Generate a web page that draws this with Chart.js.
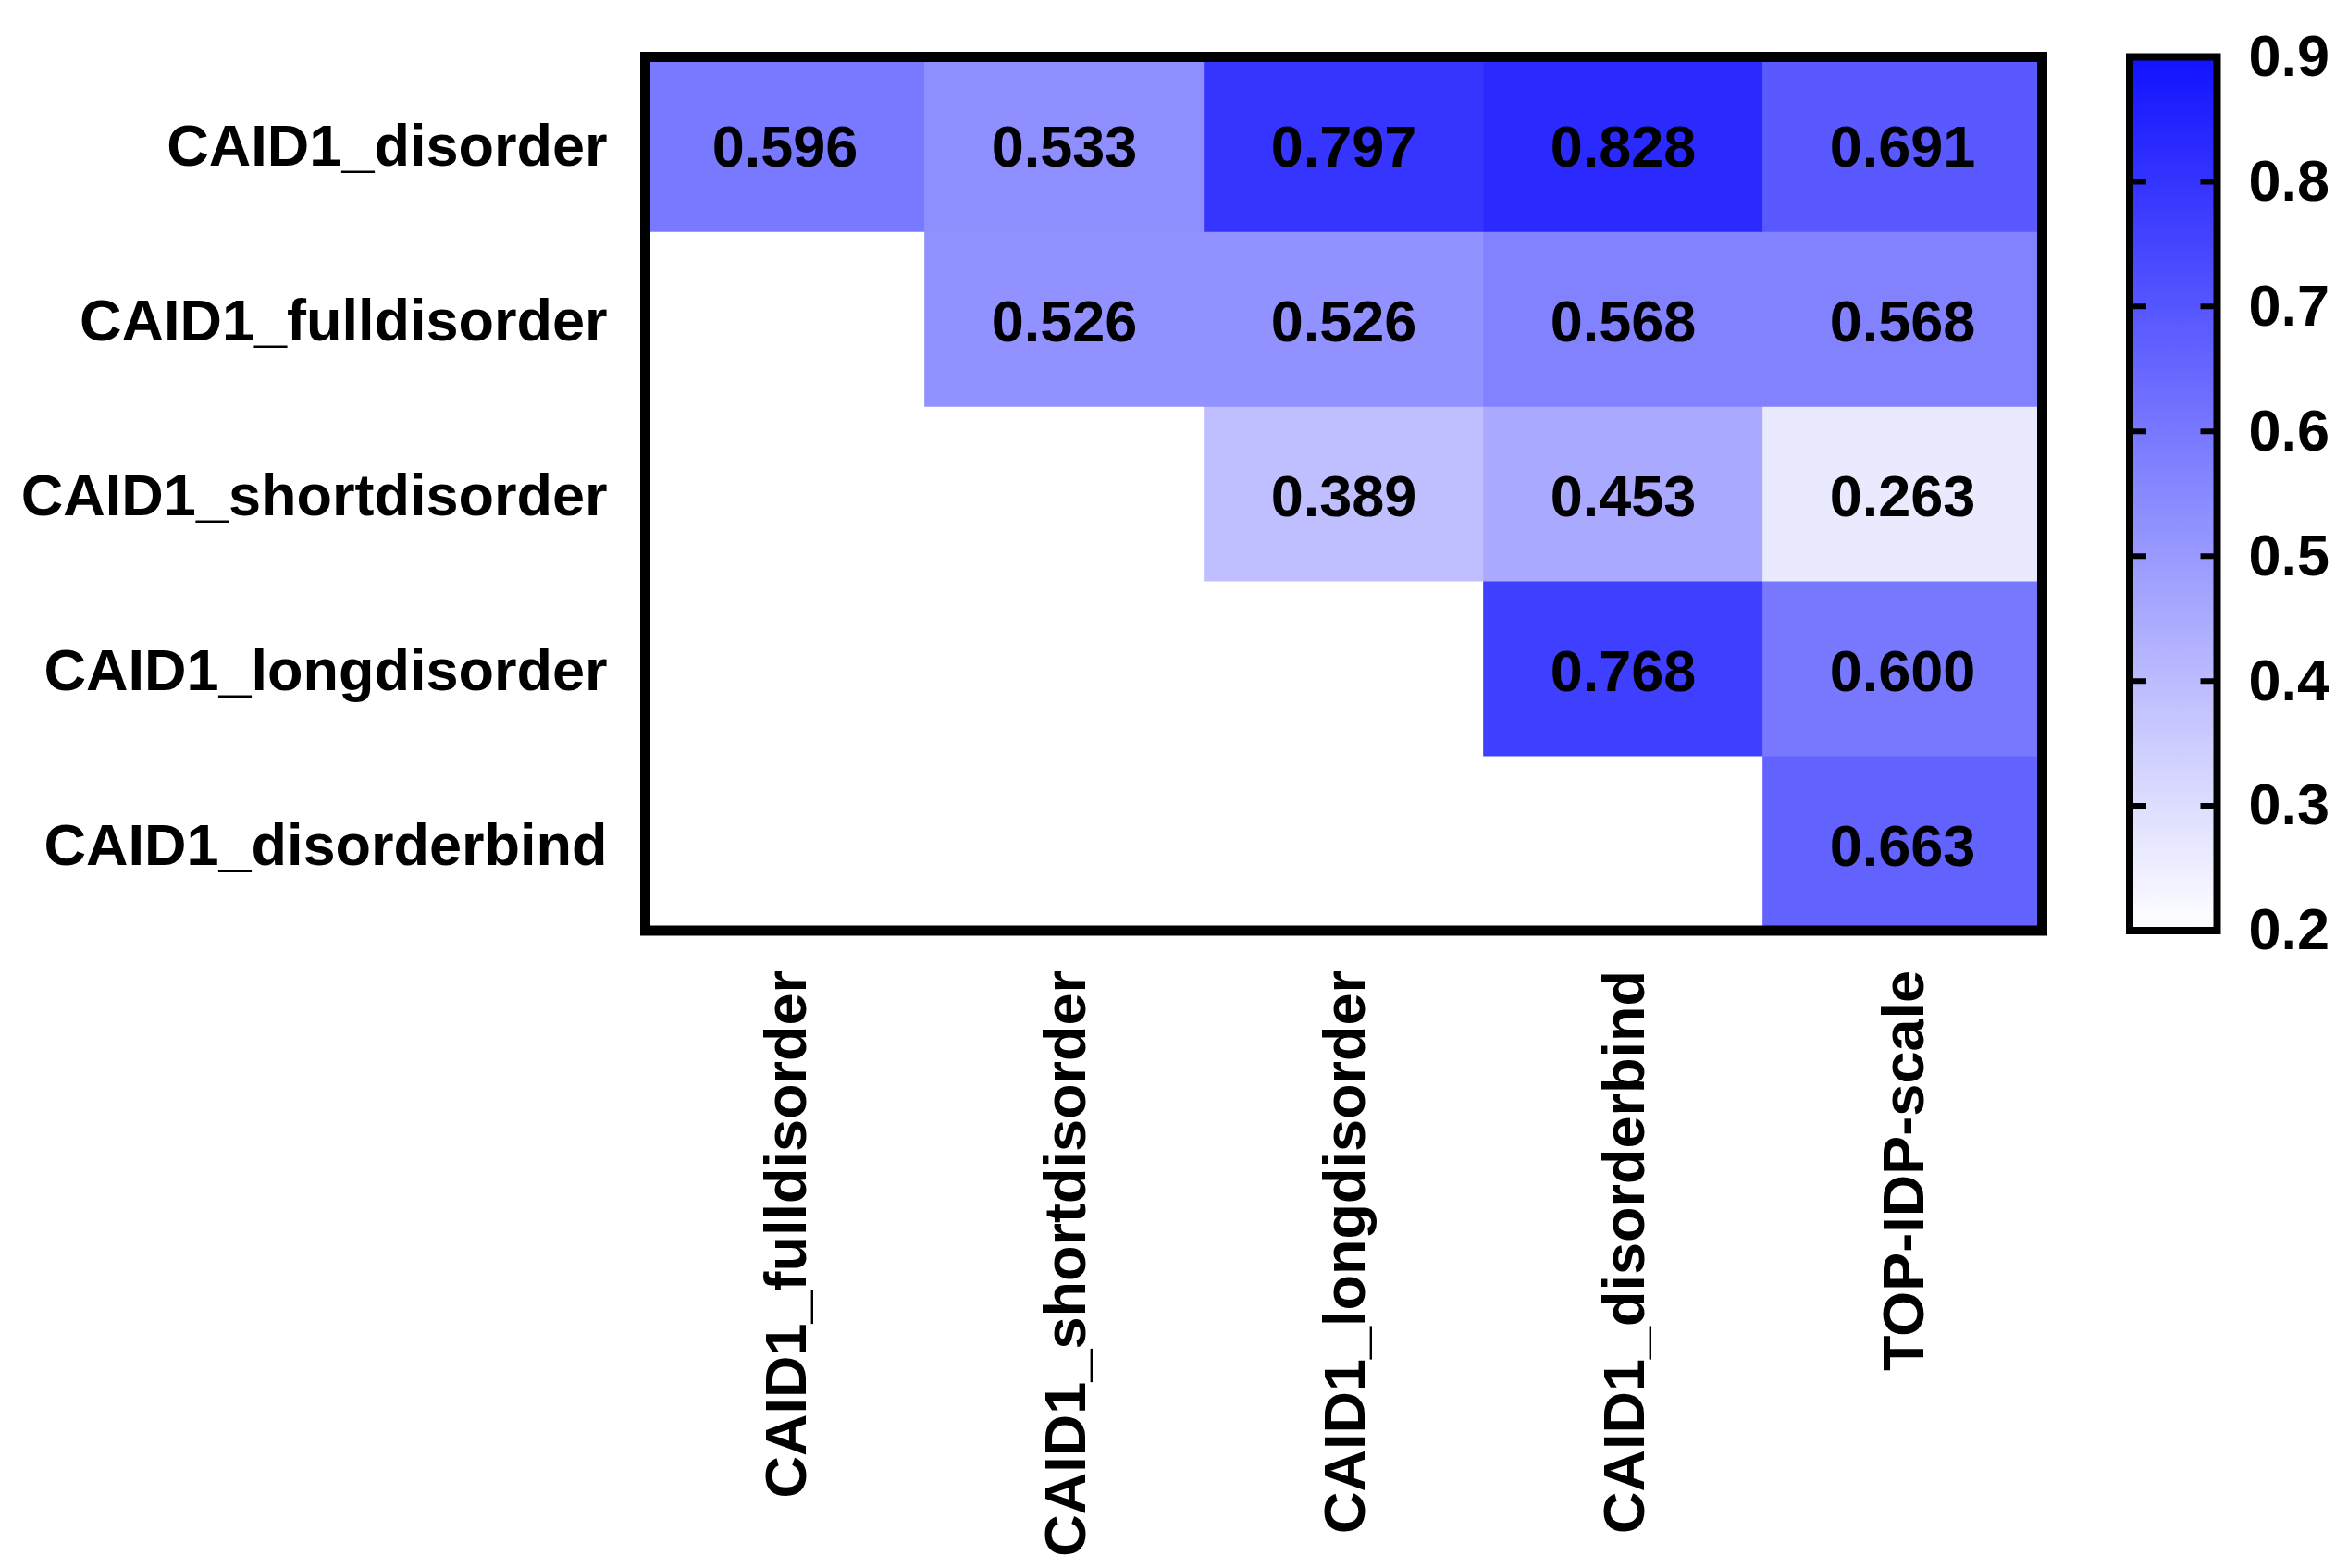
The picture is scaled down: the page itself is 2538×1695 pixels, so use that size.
<!DOCTYPE html>
<html>
<head>
<meta charset="utf-8">
<script src="https://cdn.jsdelivr.net/npm/chart.js@4.4.1/dist/chart.umd.min.js"></script>
<style>
  html, body { margin: 0; padding: 0; background: #fff; overflow: hidden; }
  #wrap { position: relative; width: 2538px; height: 1695px; }
  #heat { position: absolute; left: 0; top: 0; }
  #scale { position: absolute; left: 2250px; top: 0; }
</style>
</head>
<body>
<div id="wrap">
  <canvas id="heat" width="2538" height="1695"></canvas>
  <canvas id="scale" width="288" height="1695"></canvas>
</div>
<script>
// columnas (eje horizontal) y filas (eje vertical)
const columns = ['CAID1_fulldisorder', 'CAID1_shortdisorder', 'CAID1_longdisorder', 'CAID1_disorderbind', 'TOP-IDP-scale'];
const rows = ['CAID1_disorder', 'CAID1_fulldisorder', 'CAID1_shortdisorder', 'CAID1_longdisorder', 'CAID1_disorderbind'];

// one array per row, null = empty cell
const rowDisorder      = [0.596, 0.533, 0.797, 0.828, 0.691];
const rowFullDisorder  = [null,  0.526, 0.526, 0.568, 0.568];
const rowShortDisorder = [null,  null,  0.389, 0.453, 0.263];
const rowLongDisorder  = [null,  null,  null,  0.768, 0.600];
const rowDisorderBind  = [null,  null,  null,  null,  0.663];

const scaleTicks = [0.2, 0.3, 0.4, 0.5, 0.6, 0.7, 0.8, 0.9];

const values = [rowDisorder, rowFullDisorder, rowShortDisorder, rowLongDisorder, rowDisorderBind];
const V_MIN = scaleTicks[0];
const V_MAX = scaleTicks[scaleTicks.length - 1];

function colorFor(v) {
    const t = (v - V_MIN) / (V_MAX - V_MIN);
    const c = Math.round(255 - t * (255 - 18));
    return `rgb(${c},${c},255)`;
}

const FONT = { family: '"Liberation Sans", Arial, sans-serif', size: 63, weight: 'bold' };

// no extra padding from the tick labels, the layout padding decides
const noScalePadding = s => { s.paddingTop = 0; s.paddingBottom = 0; s.paddingLeft = 0; s.paddingRight = 0; };

const heatDatasets = rows.map((name, i) => ({
    label: name,
    data: values[i].map(v => v === null ? null : [i, i + 1]),
    cellValues: values[i],
    backgroundColor: values[i].map(v => v === null ? 'rgba(0,0,0,0)' : colorFor(v)),
    borderWidth: 0,
    barPercentage: 1,
    categoryPercentage: 1,
    grouped: false
}));

// numbers inside cells + black frame
const cellLabelsAndFrame = {
    id: 'cellLabelsAndFrame',
    afterDatasetsDraw(chart) {
        const ctx = chart.ctx;
        ctx.save();
        ctx.font = 'bold 63px "Liberation Sans", Arial, sans-serif';
        ctx.fillStyle = '#000';
        ctx.textAlign = 'center';
        ctx.textBaseline = 'alphabetic';
        chart.data.datasets.forEach((ds, i) => {
            chart.getDatasetMeta(i).data.forEach((bar, j) => {
                const v = ds.cellValues[j];
                if (v === null) return;
                const p = bar.getCenterPoint();
                ctx.fillText(v.toFixed(3), p.x, p.y + 24); // baseline a bit below centre, caps centred
            });
        });
        const a = chart.chartArea;
        ctx.lineWidth = 11;
        ctx.strokeStyle = '#000';
        ctx.strokeRect(a.left, a.top, a.right - a.left, a.bottom - a.top);
        ctx.restore();
    }
};

new Chart(document.getElementById('heat'), {
    type: 'bar',
    data: { labels: columns, datasets: heatDatasets },
    options: {
        responsive: false,
        animation: false,
        devicePixelRatio: 1,
        layout: { padding: { left: 0, right: 330.5, top: 61.5, bottom: 0 } },
        plugins: { legend: { display: false }, tooltip: { enabled: false } },
        scales: {
            x: {
                type: 'category',
                offset: true,
                grid: { display: false, drawTicks: false },
                border: { display: false },
                ticks: { font: FONT, color: '#000', padding: 43, labelOffset: 5, maxRotation: 90, minRotation: 90, autoSkip: false },
                afterFit: s => { s.height = 689; noScalePadding(s); }
            },
            y: {
                type: 'linear',
                min: 0,
                max: rows.length,
                reverse: true,
                grid: { display: false, drawTicks: false },
                border: { display: false },
                afterBuildTicks: s => { s.ticks = rows.map((_, i) => ({ value: i + 0.5 })); },
                ticks: { font: FONT, color: '#000', padding: 41, labelOffset: 6, autoSkip: false, callback: (v, i) => rows[i] },
                afterFit: s => { s.width = 697.5; noScalePadding(s); }
            }
        }
    },
    plugins: [cellLabelsAndFrame]
});

// colour bar frame and inner tick marks
const barFrame = {
    id: 'barFrame',
    afterDatasetsDraw(chart) {
        const ctx = chart.ctx;
        const a = chart.chartArea;
        const y = chart.scales.y;
        ctx.save();
        ctx.strokeStyle = '#000';
        ctx.lineWidth = 6;
        y.ticks.slice(1, -1).forEach(t => {
            const py = y.getPixelForValue(t.value);
            ctx.beginPath();
            ctx.moveTo(a.left, py); ctx.lineTo(a.left + 18, py);
            ctx.moveTo(a.right - 18, py); ctx.lineTo(a.right, py);
            ctx.stroke();
        });
        ctx.lineWidth = 8;
        ctx.strokeRect(a.left, a.top, a.right - a.left, a.bottom - a.top);
        ctx.restore();
    }
};

new Chart(document.getElementById('scale'), {
    type: 'bar',
    data: {
        labels: [''],
        datasets: [{
            data: [[V_MIN, V_MAX]],
            backgroundColor: c => {
                const area = c.chart.chartArea;
                if (!area) return colorFor(V_MAX);
                const g = c.chart.ctx.createLinearGradient(0, area.bottom, 0, area.top);
                g.addColorStop(0, colorFor(V_MIN));
                g.addColorStop(1, colorFor(V_MAX));
                return g;
            },
            borderWidth: 0,
            barPercentage: 1,
            categoryPercentage: 1
        }]
    },
    options: {
        responsive: false,
        animation: false,
        devicePixelRatio: 1,
        layout: { padding: { left: 52, right: 0, top: 61.5, bottom: 689 } },
        plugins: { legend: { display: false }, tooltip: { enabled: false } },
        scales: {
            x: { display: false },
            y: {
                position: 'right',
                min: V_MIN,
                max: V_MAX,
                grid: { display: false, drawTicks: false },
                border: { display: false },
                afterBuildTicks: s => { s.ticks = scaleTicks.map(v => ({ value: v })); },
                ticks: { font: FONT, color: '#000', padding: 34, labelOffset: 3, callback: v => v.toFixed(1) },
                afterFit: s => { s.width = 288 - 146.5; noScalePadding(s); }
            }
        }
    },
    plugins: [barFrame]
});
</script>
</body>
</html>
